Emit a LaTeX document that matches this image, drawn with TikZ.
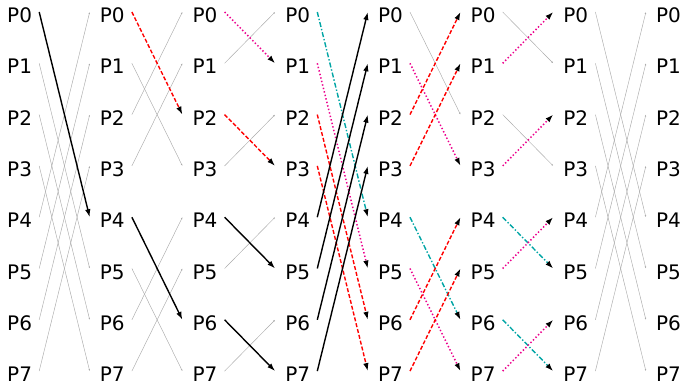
\documentclass[tikz,border=0pt]{standalone}
\usepackage{fontspec}
\setmainfont{DejaVu Sans}
\usetikzlibrary{arrows.meta}
\definecolor{tealc}{RGB}{0,165,165}
\definecolor{grayc}{RGB}{170,170,170}
\newcommand\lnk[5]{\draw[#1] ([shift={(7pt,3.5pt)}]n#2#3.east) -- ([shift={(-10pt,3.5pt)}]n#4#5.west);}
\begin{document}
\begin{tikzpicture}[
  lab/.style={anchor=west,inner sep=0pt,text height=14pt,text depth=0pt,font=\fontsize{20}{20}\selectfont},
  tip/.style={-{Latex[length=8pt,width=5.5pt,fill=black,color=black]}},
  gr/.style={draw=grayc,line width=0.45pt,-{Latex[length=2pt,width=1.6pt]}},
  bk/.style={draw=black,line width=1.4pt,tip},
  rd/.style={draw=red,line width=1.4pt,dash pattern=on 4pt off 2pt,tip},
  mg/.style={draw=magenta,line width=1.5pt,dash pattern=on 1.4pt off 2.2pt,tip},
  tl/.style={draw=tealc,line width=1.4pt,dash pattern=on 5pt off 2pt on 1.4pt off 2pt,tip},
]
\useasboundingbox (0,0) rectangle (685pt,-388pt);
\foreach \c in {0,...,7}{
  \foreach \r in {0,...,7}{
    \node[lab] (n\c\r) at ({(7*1pt+92.7*\c*1pt)},{-(15.5+51.3*\r)*1pt}) {P\r};
  }
}
% stage 0
\lnk{gr}{0}{1}{1}{5}
\lnk{gr}{0}{2}{1}{6}
\lnk{gr}{0}{3}{1}{7}
\lnk{gr}{0}{4}{1}{0}
\lnk{gr}{0}{5}{1}{1}
\lnk{gr}{0}{6}{1}{2}
\lnk{gr}{0}{7}{1}{3}
\lnk{bk}{0}{0}{1}{4}
% stage 1
\lnk{gr}{1}{1}{2}{3}
\lnk{gr}{1}{2}{2}{0}
\lnk{gr}{1}{3}{2}{1}
\lnk{gr}{1}{5}{2}{7}
\lnk{gr}{1}{6}{2}{4}
\lnk{gr}{1}{7}{2}{5}
\lnk{rd}{1}{0}{2}{2}
\lnk{bk}{1}{4}{2}{6}
% stage 2
\lnk{gr}{2}{1}{3}{0}
\lnk{gr}{2}{3}{3}{2}
\lnk{gr}{2}{5}{3}{4}
\lnk{gr}{2}{7}{3}{6}
\lnk{mg}{2}{0}{3}{1}
\lnk{rd}{2}{2}{3}{3}
\lnk{bk}{2}{4}{3}{5}
\lnk{bk}{2}{6}{3}{7}
% stage 3
\lnk{tl}{3}{0}{4}{4}
\lnk{mg}{3}{1}{4}{5}
\lnk{rd}{3}{2}{4}{6}
\lnk{rd}{3}{3}{4}{7}
\lnk{bk}{3}{4}{4}{0}
\lnk{bk}{3}{5}{4}{1}
\lnk{bk}{3}{6}{4}{2}
\lnk{bk}{3}{7}{4}{3}
% stage 4
\lnk{gr}{4}{0}{5}{2}
\lnk{mg}{4}{1}{5}{3}
\lnk{rd}{4}{2}{5}{0}
\lnk{rd}{4}{3}{5}{1}
\lnk{tl}{4}{4}{5}{6}
\lnk{mg}{4}{5}{5}{7}
\lnk{rd}{4}{6}{5}{4}
\lnk{rd}{4}{7}{5}{5}
% stage 5
\lnk{gr}{5}{0}{6}{1}
\lnk{mg}{5}{1}{6}{0}
\lnk{gr}{5}{2}{6}{3}
\lnk{mg}{5}{3}{6}{2}
\lnk{tl}{5}{4}{6}{5}
\lnk{mg}{5}{5}{6}{4}
\lnk{tl}{5}{6}{6}{7}
\lnk{mg}{5}{7}{6}{6}
% stage 6
\lnk{gr}{6}{0}{7}{4}
\lnk{gr}{6}{1}{7}{5}
\lnk{gr}{6}{2}{7}{6}
\lnk{gr}{6}{3}{7}{7}
\lnk{gr}{6}{4}{7}{0}
\lnk{gr}{6}{5}{7}{1}
\lnk{gr}{6}{6}{7}{2}
\lnk{gr}{6}{7}{7}{3}
\end{tikzpicture}
\end{document}
